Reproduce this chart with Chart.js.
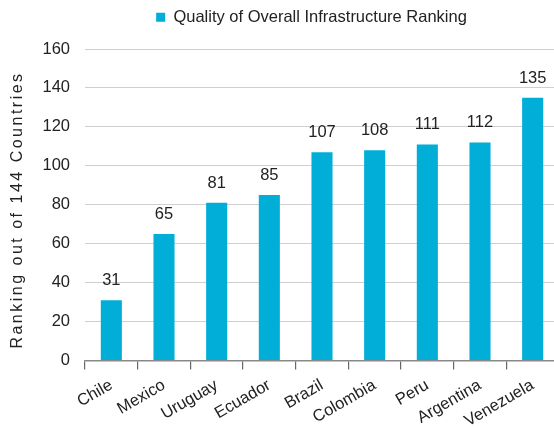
<!DOCTYPE html>
<html>
<head>
<meta charset="utf-8">
<script src="https://cdn.jsdelivr.net/npm/chart.js@4"></script>
<style>
  html, body { margin: 0; padding: 0; background: #fff; overflow: hidden; }
  #wrap { width: 554px; height: 428px; overflow: hidden; }
</style>
</head>
<body>
<div id="wrap"><canvas id="infraChart" width="559" height="428"></canvas></div>
<script>
const countries = ['Chile', 'Mexico', 'Uruguay', 'Ecuador', 'Brazil', 'Colombia', 'Peru', 'Argentina', 'Venezuela'];
const rankings = [31, 65, 81, 85, 107, 108, 111, 112, 135];
const yTicks = [0, 20, 40, 60, 80, 100, 120, 140, 160];

const FONT = '"Liberation Sans", Arial, sans-serif';
const TEXT = '#222';

// value labels above the bars
const barValues = {
  id: 'barValues',
  afterDatasetsDraw(chart) {
    const ctx = chart.ctx;
    ctx.save();
    ctx.font = '16.5px ' + FONT;
    ctx.fillStyle = TEXT;
    ctx.textAlign = 'center';
    ctx.textBaseline = 'alphabetic';
    chart.getDatasetMeta(0).data.forEach((bar, i) => {
      ctx.fillText(rankings[i], bar.x, bar.y - 15);
    });
    ctx.restore();
  }
};

// legend sits a bit right of centre and leaves room above the plot
const legendPlace = {
  id: 'legendPlace',
  beforeInit(chart) {
    const fit = chart.legend.fit;
    chart.legend.fit = function () {
      fit.call(this);
      this.height = 49;
    };
  },
  afterLayout(chart) {
    chart.legend.left += 32;
    chart.legend.right += 32;
  }
};

// rotated axis title, spaced out like the original
const yTitle = {
  id: 'yTitle',
  afterDraw(chart) {
    const ctx = chart.ctx;
    ctx.save();
    ctx.translate(18, 210);
    ctx.rotate(-Math.PI / 2);
    ctx.font = '16px ' + FONT;
    ctx.letterSpacing = '2.5px';
    ctx.fillStyle = TEXT;
    ctx.textAlign = 'center';
    ctx.textBaseline = 'middle';
    ctx.fillText('Ranking out of 144 Countries', 0, 0);
    ctx.restore();
  }
};

new Chart(document.getElementById('infraChart').getContext('2d'), {
  type: 'bar',
  data: {
    labels: countries,
    datasets: [{
      label: 'Quality of Overall Infrastructure Ranking',
      data: rankings,
      backgroundColor: '#00AED8',
      barPercentage: 0.4,
      categoryPercentage: 1.0
    }]
  },
  options: {
    responsive: false,
    animation: false,
    layout: { padding: 0 },
    plugins: {
      legend: {
        position: 'top',
        labels: {
          boxWidth: 9,
          boxHeight: 9,
          padding: 9,
          color: TEXT,
          font: { family: FONT, size: 16.5 }
        }
      },
      tooltip: { enabled: false }
    },
    scales: {
      x: {
        afterFit(scale) { scale.height = 67.5; },
        grid: {
          display: true,
          drawOnChartArea: false,
          drawTicks: true,
          tickLength: 9,
          color: '#666',
          lineWidth: 1.2,
          offset: true
        },
        border: { display: true, color: '#888', width: 1.5 },
        ticks: {
          maxRotation: 30,
          minRotation: 30,
          color: TEXT,
          font: { family: FONT, size: 16.5 },
          padding: 6
        }
      },
      y: {
        min: 0,
        max: 160,
        afterBuildTicks(axis) {
          axis.ticks = yTicks.map(v => ({ value: v }));
        },
        afterFit(scale) { scale.width = 85; },
        grid: { color: '#cfcfcf', drawTicks: false },
        border: { display: false },
        ticks: {
          color: TEXT,
          padding: 15,
          font: { family: FONT, size: 16.5 }
        }
      }
    }
  },
  plugins: [barValues, legendPlace, yTitle]
});
</script>
</body>
</html>
